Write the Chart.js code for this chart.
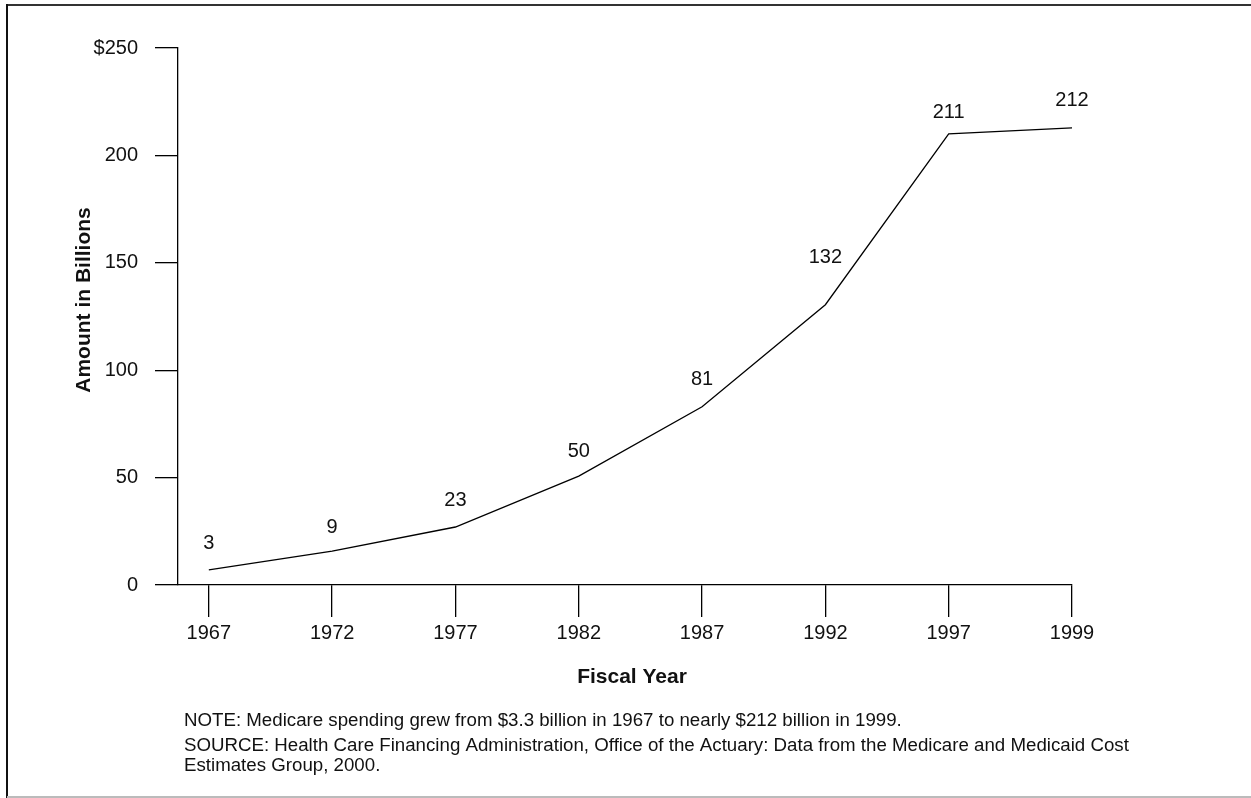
<!DOCTYPE html>
<html>
<head>
<meta charset="utf-8">
<script src="https://cdn.jsdelivr.net/npm/chart.js@4/dist/chart.umd.min.js"></script>
<style>
html,body{margin:0;padding:0;background:#fff;}
#wrap{width:1251px;height:798px;position:relative;}
canvas{display:block;}
</style>
</head>
<body>
<div id="wrap"><canvas id="c" width="1251" height="798"></canvas></div>
<script>
// ---- data ----
const categories = ["1967","1972","1977","1982","1987","1992","1997","1999"];
const spending = [7, 15.8, 27, 50.7, 83, 130.5, 210, 212.8];
const pointLabels = ["3","9","23","50","81","132","211","212"];
const yTickLabels = {0:"0",50:"50",100:"100",150:"150",200:"200",250:"$250"};
const yTitle = "Amount in Billions";
const xTitle = "Fiscal Year";
const notes = [
  "NOTE: Medicare spending grew from $3.3 billion in 1967 to nearly $212 billion in 1999.",
  "SOURCE: Health Care Financing Administration, Office of the Actuary: Data from the Medicare and Medicaid Cost",
  "Estimates Group, 2000."
];
// label lift above each point (style)
const labelLift = [26, 24, 27, 25, 27, 47, 21, 27];

const FONT = "'Liberation Sans', Arial, Helvetica, sans-serif";

const decor = {
  id: 'decor',
  beforeDraw(chart) {
    const ctx = chart.ctx;
    ctx.save();
    ctx.fillStyle = '#fff';
    ctx.fillRect(0, 0, chart.width, chart.height);
    ctx.restore();
  },
  afterDraw(chart) {
    const ctx = chart.ctx;
    ctx.save();
    // frame
    ctx.lineWidth = 2;
    ctx.strokeStyle = '#333';
    ctx.beginPath();
    ctx.moveTo(6, 5); ctx.lineTo(1251, 5);
    ctx.stroke();
    ctx.strokeStyle = '#111';
    ctx.beginPath();
    ctx.moveTo(7, 4); ctx.lineTo(7, 798);
    ctx.stroke();
    ctx.strokeStyle = '#bbb';
    ctx.beginPath();
    ctx.moveTo(7, 797); ctx.lineTo(1251, 797);
    ctx.stroke();

    // point labels
    const meta = chart.getDatasetMeta(0);
    ctx.fillStyle = '#111';
    ctx.font = "20px " + FONT;
    ctx.textAlign = 'center';
    ctx.textBaseline = 'middle';
    meta.data.forEach((pt, i) => {
      ctx.fillText(pointLabels[i], pt.x, pt.y - labelLift[i]);
    });

    // axis titles
    ctx.font = "bold 21px " + FONT;
    ctx.fillText(xTitle, 632, 677);
    ctx.save();
    ctx.translate(84, 300);
    ctx.rotate(-Math.PI / 2);
    ctx.fillText(yTitle, 0, 0);
    ctx.restore();

    // notes
    ctx.font = "18.7px " + FONT;
    ctx.textAlign = 'left';
    const ys = [721, 746, 766];
    notes.forEach((t, i) => ctx.fillText(t, 184, ys[i]));
    ctx.restore();
  }
};

new Chart(document.getElementById('c'), {
  type: 'line',
  data: {
    datasets: [{
      data: categories.map((c, i) => ({x: i, y: spending[i]})),
      borderColor: '#000',
      borderWidth: 1.3,
      pointRadius: 0,
      tension: 0,
      fill: false,
      clip: false
    }]
  },
  options: {
    responsive: false,
    animation: false,
    devicePixelRatio: 1,
    layout: { padding: { left: 0, top: 48, right: 179, bottom: 153 } },
    plugins: { legend: { display: false }, tooltip: { enabled: false }, title: { display: false } },
    scales: {
      x: {
        type: 'linear',
        min: -0.25,
        max: 7,
        afterBuildTicks(scale) { scale.ticks = categories.map((c, i) => ({value: i})); },
        afterFit(scale) { scale.height = 60; },
        ticks: {
          callback: (v) => categories[v],
          font: { size: 20, family: FONT },
          color: '#111',
          padding: 4,
          maxRotation: 0,
          autoSkip: false
        },
        grid: { drawOnChartArea: false, drawTicks: true, tickLength: 32, color: '#000', lineWidth: 1.3 },
        border: { display: true, color: '#000', width: 1.3 }
      },
      y: {
        min: 0,
        max: 250,
        afterFit(scale) { scale.width = 178; },
        afterBuildTicks(scale) { scale.ticks = Object.keys(yTickLabels).map(k => ({value: +k})); },
        ticks: {
          callback: (v) => yTickLabels[v],
          font: { size: 20, family: FONT },
          color: '#111',
          padding: 17
        },
        grid: { drawOnChartArea: false, drawTicks: true, tickLength: 23, color: '#000', lineWidth: 1.3 },
        border: { display: true, color: '#000', width: 1.3 }
      }
    }
  },
  plugins: [decor]
});
</script>
</body>
</html>
